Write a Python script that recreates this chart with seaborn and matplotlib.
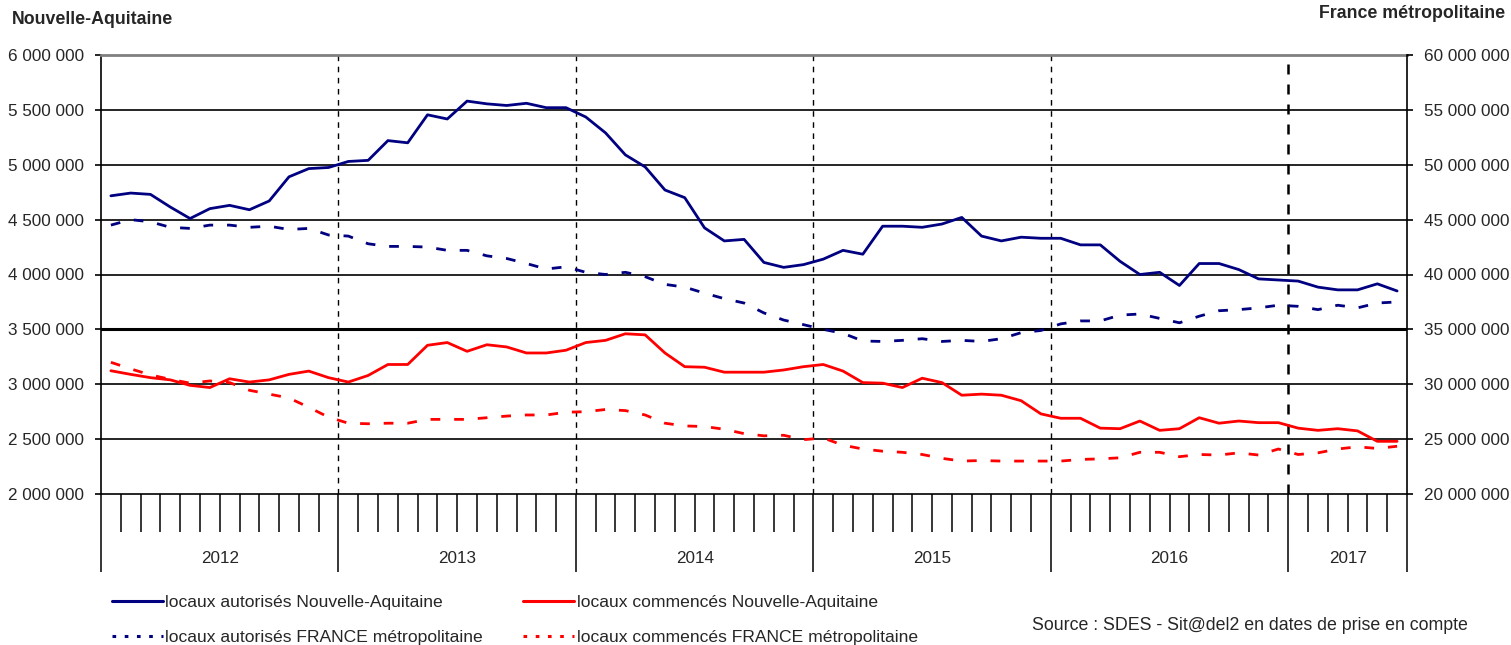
import seaborn as sns
import matplotlib.pyplot as plt
import pandas as pd
from matplotlib.lines import Line2D
from matplotlib.ticker import FuncFormatter, MultipleLocator, FixedLocator

sns.set_style('white')
plt.rcParams['font.family'] = ['Liberation Sans', 'DejaVu Sans']

years = ['2012', '2013', '2014', '2015', '2016', '2017']
months_per_year = [12, 12, 12, 12, 12, 6]

# locaux autorises Nouvelle-Aquitaine (millions)
na_aut = [4.717, 4.742, 4.73, 4.615, 4.51, 4.6, 4.63, 4.59, 4.67, 4.89, 4.965, 4.975,
          5.03, 5.04, 5.22, 5.2, 5.455, 5.417, 5.58, 5.555, 5.54, 5.56, 5.52, 5.52,
          5.435, 5.29, 5.09, 4.98, 4.77, 4.70, 4.425, 4.306, 4.32, 4.11, 4.065, 4.09,
          4.14, 4.22, 4.185, 4.44, 4.44, 4.43, 4.46, 4.52, 4.35, 4.306, 4.34, 4.33,
          4.33, 4.27, 4.27, 4.12, 4.0, 4.02, 3.9, 4.1, 4.1, 4.045, 3.96, 3.95,
          3.94, 3.885, 3.86, 3.86, 3.915, 3.85]
# locaux commences Nouvelle-Aquitaine (millions)
na_com = [3.123, 3.09, 3.06, 3.04, 2.99, 2.97, 3.05, 3.02, 3.04, 3.09, 3.12, 3.06,
          3.02, 3.08, 3.18, 3.18, 3.355, 3.38, 3.30, 3.36, 3.34, 3.285, 3.285, 3.31,
          3.38, 3.40, 3.46, 3.45, 3.285, 3.16, 3.155, 3.11, 3.11, 3.11, 3.13, 3.16,
          3.18, 3.12, 3.015, 3.01, 2.97, 3.055, 3.015, 2.90, 2.91, 2.90, 2.85, 2.73,
          2.69, 2.69, 2.60, 2.595, 2.665, 2.58, 2.595, 2.695, 2.645, 2.665, 2.65, 2.65,
          2.60, 2.58, 2.595, 2.575, 2.48, 2.48]
# locaux autorises France metropolitaine (millions)
fr_aut = [44.5, 45.0, 44.8, 44.3, 44.2, 44.5, 44.5, 44.3, 44.4, 44.1, 44.2, 43.6,
          43.5, 42.8, 42.56, 42.56, 42.5, 42.2, 42.2, 41.7, 41.46, 41.0, 40.5, 40.7,
          40.2, 40.0, 40.2, 39.8, 39.1, 38.85, 38.3, 37.8, 37.4, 36.5, 35.85, 35.43,
          35.0, 34.64, 33.94, 33.9, 34.0, 34.15, 33.9, 34.0, 33.9, 34.15, 34.7, 34.9,
          35.5, 35.77, 35.77, 36.3, 36.4, 36.0, 35.6, 36.2, 36.7, 36.8, 36.96, 37.2,
          37.1, 36.8, 37.2, 36.96, 37.4, 37.5]
# locaux commences France metropolitaine (millions)
fr_com = [32.0, 31.4, 30.85, 30.45, 30.1, 30.3, 30.15, 29.45, 29.1, 28.75, 27.9, 27.0,
          26.45, 26.4, 26.45, 26.45, 26.8, 26.8, 26.8, 26.95, 27.1, 27.2, 27.2, 27.45,
          27.5, 27.7, 27.6, 27.2, 26.45, 26.2, 26.15, 25.9, 25.5, 25.3, 25.35, 24.95,
          25.1, 24.45, 24.1, 23.9, 23.8, 23.6, 23.25, 23.0, 23.05, 23.0, 23.0, 23.0,
          23.0, 23.15, 23.2, 23.3, 23.8, 23.8, 23.4, 23.6, 23.55, 23.75, 23.55, 24.1,
          23.6, 23.75, 24.1, 24.3, 24.15, 24.35]

labels = ['locaux autorisés Nouvelle-Aquitaine', 'locaux autorisés FRANCE métropolitaine',
          'locaux commencés Nouvelle-Aquitaine', 'locaux commencés FRANCE métropolitaine']

n = len(na_aut)
df = pd.DataFrame({'mois': range(n),
                   'na_aut': [v * 1e6 for v in na_aut],
                   'na_com': [v * 1e6 for v in na_com],
                   'fr_aut': [v * 1e6 for v in fr_aut],
                   'fr_com': [v * 1e6 for v in fr_com]})

navy = '#000080'
red = '#ff0000'
W, H = 1511, 645

fig = plt.figure(figsize=(W / 100, H / 100), dpi=100)
ax = fig.add_axes([101 / W, 1 - 494 / H, (1407 - 101) / W, 439 / H])
ax2 = ax.twinx()

# reference lines
for v in range(2500000, 6000000, 500000):
    ax.axhline(v, color='black', lw=2.2 if v == 3500000 else 1.2, zorder=0)

bounds = []
pos = -0.5
for m in months_per_year:
    pos += m
    bounds.append(pos)
for b in bounds[:-1]:
    ax.axvline(b, color='black', lw=1.8 if b == bounds[-2] else 1.0,
               ls=(0, (4, 4)), zorder=0)

sns.lineplot(data=df, x='mois', y='na_aut', ax=ax, color=navy, lw=2.0)
sns.lineplot(data=df, x='mois', y='na_com', ax=ax, color=red, lw=2.0)
sns.lineplot(data=df, x='mois', y='fr_aut', ax=ax2, color=navy, lw=2.0, ls=(0, (3.5, 5)))
sns.lineplot(data=df, x='mois', y='fr_com', ax=ax2, color=red, lw=2.0, ls=(0, (3.5, 5)))

ax.set_xlim(-0.5, n - 0.5)
ax.set_ylim(2e6, 6e6)
ax2.set_ylim(20e6, 60e6)
for a in (ax, ax2):
    a.set_xlabel('')
    a.set_ylabel('')

fmt = FuncFormatter(lambda v, p: f'{int(round(v)):,}'.replace(',', ' '))
ax.yaxis.set_major_locator(MultipleLocator(500000))
ax.yaxis.set_major_formatter(fmt)
ax2.yaxis.set_major_locator(MultipleLocator(5000000))
ax2.yaxis.set_major_formatter(fmt)
ax.tick_params(axis='y', left=True, length=4, width=1.2, pad=8, labelsize=12.3, color='black')
ax2.tick_params(axis='y', right=True, length=4, width=1.2, pad=8, labelsize=12.3, color='black')

# month ticks and year separators below the plot
major = [-0.5] + bounds
minor = [i + 0.5 for i in range(n - 1) if i + 0.5 not in major]
ax.xaxis.set_major_locator(FixedLocator(major))
ax.xaxis.set_minor_locator(FixedLocator(minor))
ax.set_xticklabels([])
ax.tick_params(axis='x', which='major', bottom=True, direction='out', length=56,
               width=1.1, color='black')
ax.tick_params(axis='x', which='minor', bottom=True, direction='out', length=27,
               width=1.1, color='black')

starts = [-0.5] + bounds[:-1]
for yr, s, e in zip(years, starts, bounds):
    ax.text((s + e) / 2, -0.146, yr, transform=ax.get_xaxis_transform(),
            ha='center', va='center', fontsize=12.3)

for sp in ['left', 'bottom']:
    ax.spines[sp].set_color('black')
    ax.spines[sp].set_linewidth(1.2)
ax.spines['top'].set_color('#808080')
ax.spines['top'].set_linewidth(2)
ax.spines['right'].set_visible(False)
for sp in ['left', 'top', 'bottom']:
    ax2.spines[sp].set_visible(False)
ax2.spines['right'].set_color('black')
ax2.spines['right'].set_linewidth(1.2)

fig.text(12 / W, 1 - 20 / H, 'Nouvelle-Aquitaine', ha='left', va='center',
         fontsize=12.8, weight='bold')
fig.text(1505 / W, 1 - 14 / H, 'France métropolitaine', ha='right', va='center',
         fontsize=12.8, weight='bold')

handles = [Line2D([], [], color=navy, lw=2.2),
           Line2D([], [], color=navy, lw=2.2, ls=(0, (1.2, 2.8))),
           Line2D([], [], color=red, lw=2.2),
           Line2D([], [], color=red, lw=2.2, ls=(0, (1.2, 2.8)))]
fig.legend(handles, labels, loc='upper left', bbox_to_anchor=(112 / W, 1 - 595 / H),
           ncol=2, frameon=False, fontsize=12.6, handlelength=2.9, handletextpad=0.15,
           columnspacing=2.3, labelspacing=1.1, borderaxespad=0, borderpad=0)

fig.text(1468 / W, 1 - 625 / H, 'Source : SDES - Sit@del2 en dates de prise en compte',
         ha='right', va='center', fontsize=12.8)

fig.savefig('out.png', dpi=100)
